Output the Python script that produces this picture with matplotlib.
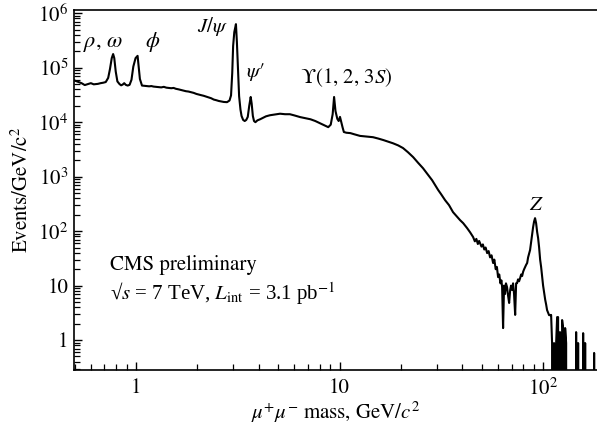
import matplotlib
matplotlib.use('Agg')
import matplotlib.pyplot as plt
import matplotlib.ticker as mticker

plt.rcParams['font.family'] = ['STIXGeneral', 'DejaVu Serif']
plt.rcParams['mathtext.fontset'] = 'stix'
plt.rcParams['font.size'] = 15

# dimuon mass spectrum (GeV/c^2, events/GeV/c^2)
mass = [0.50, 0.52, 0.54, 0.56, 0.58, 0.60, 0.62, 0.65, 0.67, 0.69,
        0.71, 0.73, 0.745, 0.76, 0.772, 0.782, 0.795, 0.81, 0.83, 0.845,
        0.86, 0.875, 0.89, 0.91, 0.93, 0.95, 0.97, 0.995, 1.018, 1.03,
        1.045, 1.07, 1.10, 1.13, 1.16, 1.19, 1.22, 1.26, 1.30, 1.33,
        1.37, 1.41, 1.45, 1.49, 1.53, 1.57, 1.62, 1.66, 1.71, 1.76,
        1.81, 1.86, 1.92, 1.98, 2.04, 2.09, 2.15, 2.21, 2.27, 2.34,
        2.41, 2.48, 2.55, 2.62, 2.70, 2.80, 2.88, 2.93, 2.97, 3.00,
        3.04, 3.097, 3.13, 3.17, 3.21, 3.26, 3.30, 3.36, 3.42, 3.48,
        3.54, 3.60, 3.66, 3.70, 3.75, 3.80, 3.86, 3.95, 4.07, 4.2,
        4.35, 4.55, 4.8, 5.1, 5.4, 5.7, 6.0, 6.4, 6.8, 7.2,
        7.6, 8.0, 8.4, 8.8, 9.05, 9.25, 9.40, 9.55, 9.75, 9.9,
        10.05, 10.2, 10.35, 10.5, 10.8, 11.3, 11.8, 12.6, 13.5, 14.6,
        15.5, 16.4, 17.3, 18.3, 19.4, 20.5, 21.7, 23.0, 24.3, 25.7,
        27.0, 28.5, 29.5, 30.5, 31.5, 33.0, 34.5, 35.5, 36.1, 37.5,
        39.1, 40.5, 42.3, 43.8, 45.3, 46.2, 47.0, 47.8, 48.5, 49.0,
        49.8, 50.6, 51.4, 52.2, 53.1, 54.0, 54.9, 55.8, 56.8, 57.6,
        58.5, 59.3, 60.1, 60.9, 61.7, 62.4, 62.9, 63.6, 64.3, 65.0,
        65.7, 66.5, 67.3, 68.1, 68.9, 69.6, 70.4, 71.2, 72.0, 72.9,
        73.7, 74.5, 75.3, 76.2, 77.1, 78.0, 78.9, 79.8, 80.7, 81.6,
        82.5, 83.5, 84.4, 85.3, 86.3, 87.3, 88.3, 89.3, 90.3, 91.3,
        92.4, 93.5, 94.5, 95.6, 96.7, 97.8, 98.9, 100.0, 101.2, 102.4,
        103.5, 104.6, 105.8, 107.0, 108.3, 109.5, 110.7, 111.9, 113.2, 114.6,
        115.9, 117.2, 118.5, 119.8, 121.1, 122.6, 124.0, 125.4, 126.8, 128.3,
        129.8, 131.2, 132.7, 134.3, 135.8, 137.3, 138.9, 140.5, 142.1, 143.7,
        145.3, 147.0, 148.6, 150.3, 152.0, 153.8, 155.5, 157.3, 159.1, 160.9,
        162.7, 164.5, 166.4, 168.3, 170.2, 172.1, 174.1, 176.1, 178.1, 180.2,
        182.2, 184.3]

events = [58000, 55000, 52000, 48000, 50000, 52000, 49500, 50500, 52000, 53000,
          54500, 65000, 95000, 150000, 178000, 150000, 85000, 56000, 50000, 47500,
          49000, 52000, 48500, 47000, 48500, 60000, 105000, 150000, 165000, 105000,
          62000, 47000, 46500, 46000, 45500, 46000, 45000, 44500, 44000, 43500,
          44500, 43000, 42500, 42000, 42500, 41000, 40000, 39000, 38000, 37000,
          36500, 35500, 34500, 33000, 32000, 31300, 30500, 29500, 28500, 27500,
          26000, 25300, 24500, 24000, 23500, 23300, 25000, 31000, 80000, 250000,
          450000, 630000, 300000, 90000, 30000, 17000, 13000, 11000, 10500, 11000,
          12500, 20000, 29000, 22000, 13000, 10500, 10000, 10800, 11300, 12000,
          12800, 13400, 13800, 14300, 14000, 14000, 13300, 12400, 11800, 11300,
          10500, 9600, 8800, 8100, 9000, 14000, 29000, 16000, 11500, 10500,
          12500, 10000, 8000, 6600, 6400, 6300, 6000, 5600, 5450, 5300,
          5000, 4700, 4400, 4100, 3750, 3350, 2800, 2280, 1800, 1430,
          1120, 860, 700, 570, 480, 370, 300, 250, 223, 190,
          159, 140, 114, 95, 78, 65, 72, 58, 66, 60,
          52, 57, 46, 50, 39.5, 43, 33, 36, 26, 30,
          20, 22, 14.3, 16, 11, 12.5, 9.4, 1.66, 10, 7,
          11, 9.4, 6.5, 4.8, 8.3, 10, 8.3, 11, 7, 2.9,
          11, 11.1, 13, 12, 13.7, 16, 15, 18, 20, 21.9,
          24, 26, 33, 38, 45, 62, 85, 118, 150, 173,
          140, 96, 75, 50, 30, 21.9, 15, 10, 7.28, 5.5,
          4.5, 3.55, 3.2, 2.87, 2.87, 2.9, 0.88, 0, 0.88, 0,
          0.88, 2.64, 2.64, 0, 1.4, 0, 2.33, 1.66, 0, 1.66,
          0.88, 0, 0, 0, 0, 0, 0, 0, 0, 0,
          1.4, 0, 0.88, 0, 0, 0, 0, 1.34, 0, 0.88,
          0, 0, 0, 0, 0, 0, 0, 0, 0.58, 0,
          0, 0]

fig = plt.figure(figsize=(5.97, 4.26), dpi=100)
ax = fig.add_axes([0.124, 0.131, 0.876, 0.845])

ax.set_xscale('log')
ax.set_yscale('log', nonpositive='clip')
ax.plot(mass, events, color='black', lw=1.5)

ax.set_xlim(0.496, 184)
ax.set_ylim(0.28, 1.135e6)

ax.xaxis.set_major_locator(mticker.FixedLocator([1, 10, 100]))
ax.xaxis.set_major_formatter(mticker.FixedFormatter(['1', '10', '$10^2$']))
ax.xaxis.set_minor_locator(mticker.LogLocator(base=10, subs=range(2, 10), numticks=20))
ax.xaxis.set_minor_formatter(mticker.NullFormatter())

yt = [1, 10, 1e2, 1e3, 1e4, 1e5, 1e6]
ax.yaxis.set_major_locator(mticker.FixedLocator(yt))
ax.yaxis.set_major_formatter(mticker.FixedFormatter(
    ['1', '10', '$10^2$', '$10^3$', '$10^4$', '$10^5$', '$10^6$']))
ax.yaxis.set_minor_locator(mticker.LogLocator(base=10, subs=range(2, 10), numticks=20))
ax.yaxis.set_minor_formatter(mticker.NullFormatter())

ax.tick_params(which='major', direction='in', length=6, width=1, labelsize=15)
ax.tick_params(which='minor', direction='in', length=4, width=0.9)
ax.tick_params(axis='x', pad=6)
ax.tick_params(axis='y', pad=4)
ax.spines['right'].set_visible(False)
for s in ['left', 'bottom', 'top']:
    ax.spines[s].set_linewidth(1.2)

ax.set_xlabel(r'$\mu^{+}\mu^{-}$ mass, GeV/$c^2$', fontsize=15, labelpad=0)
ax.set_ylabel('Events/GeV/c$^{\\rm 2}$', fontsize=15, labelpad=4)

ax.text(0.549, 2.38e5, r'$\rho$, $\omega$', fontsize=16)
ax.text(1.107, 2.38e5, r'$\phi$', fontsize=16)
ax.text(1.99, 4.5e5, r'$J/\psi$', fontsize=15)
ax.text(3.47, 6.7e4, '$\\psi$′', fontsize=15)
ax.text(6.4, 5.2e4, 'ϒ(1, 2, 3$S$)', fontsize=15)
ax.text(92.4, 243, '$Z$', fontsize=15, ha='center')

ax.text(0.069, 0.278, 'CMS preliminary', transform=ax.transAxes, fontsize=15)
ax.text(0.069, 0.194, '√$s$ = 7 TeV, $L_{\\rm int}$ = 3.1 pb$^{-1}$',
        transform=ax.transAxes, fontsize=15,
        family=['Liberation Serif', 'STIXGeneral'])

fig.savefig('out.png', dpi=100)
